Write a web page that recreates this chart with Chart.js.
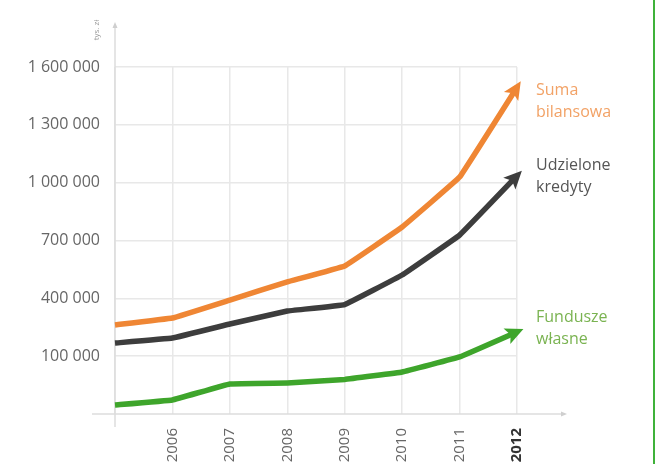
<!DOCTYPE html>
<html>
<head>
<meta charset="utf-8">
<script src="https://cdn.jsdelivr.net/npm/chart.js@4.4.1/dist/chart.umd.min.js"></script>
<style>
  html, body { margin: 0; padding: 0; background: #fff; overflow: hidden; }
  #wrap { position: relative; width: 655px; height: 464px; }
  #edge { position: absolute; right: 0; top: 0; width: 2px; height: 464px; background: #3fb23a; }
</style>
</head>
<body>
<div id="wrap">
  <canvas id="chart" width="655" height="464"></canvas>
  <div id="edge"></div>
</div>
<script>
// --- dane (tys. zł) ---
const years = ['2005', '2006', '2007', '2008', '2009', '2010', '2011', '2012'];
const sumaBilansowa = [262000, 298000, 391000, 485000, 568000, 770000, 1029000, 1495000];
const udzieloneKredyty = [168000, 194000, 267000, 334000, 368000, 521000, 728000, 1036000];
const funduszeWlasne = [-153000, -127000, -44000, -39000, -21000, 18000, 96000, 226000];
const yTicks = [100000, 400000, 700000, 1000000, 1300000, 1600000];
const seriesLabels = [['Suma', 'bilansowa'], ['Udzielone', 'kredyty'], ['Fundusze', 'własne']];
const lineColors = ['#ef8634', '#3d3d3d', '#3ea52b'];
const textColors = ['#f2a266', '#555555', '#7ab351'];
const labelTop = [95, 170, 322]; // linia bazowa pierwszego wiersza podpisu

const fontFamily = '"Open Sans", sans-serif';
const gridColor = '#e8e8e8';

function fmt(v) {
  return String(v).replace(/\B(?=(\d{3})+(?!\d))/g, ' ');
}

// strzałki na końcach linii, osie ze strzałkami, podpisy serii
const decorPlugin = {
  id: 'decor',
  beforeDatasetsDraw(chart) {
    const ctx = chart.ctx;
    const a = chart.chartArea;
    ctx.save();
    ctx.strokeStyle = '#dcdcdc';
    ctx.fillStyle = '#cfcfcf';
    ctx.lineWidth = 1.5;
    // oś X
    ctx.beginPath();
    ctx.moveTo(a.left - 23, a.bottom);
    ctx.lineTo(a.right + 45, a.bottom);
    ctx.stroke();
    ctx.beginPath();
    ctx.moveTo(a.right + 50, a.bottom);
    ctx.lineTo(a.right + 44, a.bottom - 2.5);
    ctx.lineTo(a.right + 44, a.bottom + 2.5);
    ctx.fill();
    // oś Y
    ctx.beginPath();
    ctx.moveTo(a.left, a.bottom + 13);
    ctx.lineTo(a.left, a.top - 40);
    ctx.stroke();
    ctx.beginPath();
    ctx.moveTo(a.left, a.top - 45);
    ctx.lineTo(a.left - 2.5, a.top - 39);
    ctx.lineTo(a.left + 2.5, a.top - 39);
    ctx.fill();
    ctx.restore();
  },
  afterDatasetsDraw(chart) {
    const ctx = chart.ctx;
    chart.data.datasets.forEach((ds, i) => {
      const pts = chart.getDatasetMeta(i).data;
      const p1 = pts[pts.length - 2];
      const p2 = pts[pts.length - 1];
      const dx = p2.x - p1.x, dy = p2.y - p1.y;
      const len = Math.sqrt(dx * dx + dy * dy);
      const ux = dx / len, uy = dy / len;
      const tipX = p2.x + ux * 7, tipY = p2.y + uy * 7;
      const baseX = tipX - ux * 18, baseY = tipY - uy * 18;
      const hw = 8.5;
      ctx.save();
      ctx.fillStyle = ds.borderColor;
      ctx.beginPath();
      ctx.moveTo(tipX, tipY);
      ctx.lineTo(baseX - uy * hw, baseY + ux * hw);
      ctx.lineTo(baseX + ux * 4, baseY + uy * 4);
      ctx.lineTo(baseX + uy * hw, baseY - ux * hw);
      ctx.closePath();
      ctx.fill();
      ctx.restore();
    });
  },
  afterDraw(chart) {
    const ctx = chart.ctx;
    const a = chart.chartArea;
    ctx.save();
    // podpisy serii
    ctx.font = '16px ' + fontFamily;
    ctx.textAlign = 'left';
    ctx.textBaseline = 'alphabetic';
    seriesLabels.forEach((lines, i) => {
      ctx.fillStyle = textColors[i];
      lines.forEach((t, j) => ctx.fillText(t, a.right + 19, labelTop[i] + j * 22));
    });
    // jednostka osi Y
    ctx.translate(a.left - 18, a.top - 37);
    ctx.rotate(-Math.PI / 2);
    ctx.font = '8px ' + fontFamily;
    ctx.fillStyle = '#9a9a9a';
    ctx.textAlign = 'center';
    ctx.textBaseline = 'middle';
    ctx.fillText('tys. zł', 0, 0);
    ctx.restore();
  }
};

const datasets = [sumaBilansowa, udzieloneKredyty, funduszeWlasne].map((vals, i) => ({
  label: seriesLabels[i].join(' '),
  data: vals,
  borderColor: lineColors[i],
  backgroundColor: lineColors[i],
  borderWidth: 5.5,
  borderCapStyle: 'butt',
  borderJoinStyle: 'round',
  pointRadius: 0,
  tension: 0.05,
  clip: false
}));

new Chart(document.getElementById('chart'), {
  type: 'line',
  data: { labels: years, datasets: datasets },
  options: {
    responsive: false,
    devicePixelRatio: 1,
    animation: false,
    layout: { padding: { top: 67, right: 138, left: 0, bottom: 0 } },
    plugins: { legend: { display: false }, tooltip: { enabled: false } },
    scales: {
      x: {
        type: 'category',
        offset: false,
        border: { display: false },
        grid: { color: gridColor, lineWidth: 1.5, drawTicks: false },
        ticks: {
          autoSkip: false,
          maxRotation: 90,
          minRotation: 90,
          padding: 14,
          color: (c) => c.index === years.length - 1 ? '#333' : '#666',
          font: (c) => ({ family: fontFamily, size: 15, weight: c.index === years.length - 1 ? 'bold' : 'normal' }),
          callback: (v, i) => i === 0 ? '' : years[i]
        },
        afterFit: (s) => { s.height = 50; }
      },
      y: {
        min: -200000,
        max: 1600000,
        border: { display: false },
        grid: { color: gridColor, lineWidth: 1.5, drawTicks: false },
        afterBuildTicks: (s) => { s.ticks = yTicks.map(v => ({ value: v })); },
        ticks: {
          padding: 15,
          color: '#666',
          font: { family: fontFamily, size: 16 },
          callback: (v) => fmt(v)
        },
        afterFit: (s) => { s.width = 115; }
      }
    }
  },
  plugins: [decorPlugin]
});
</script>
</body>
</html>
